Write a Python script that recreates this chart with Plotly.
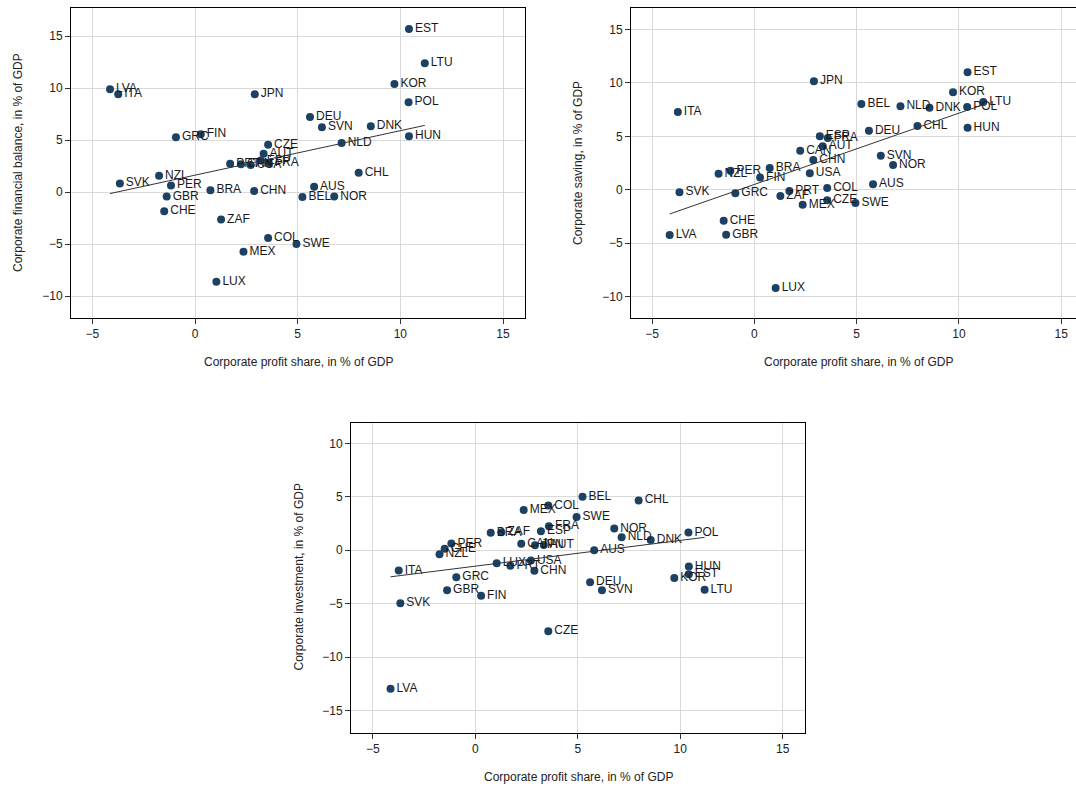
import numpy as np
import plotly.graph_objects as go

# Country codes and corporate profit share (x, % of GDP), shared by all panels
countries = ["EST", "LTU", "KOR", "POL", "LVA", "ITA", "JPN", "DEU", "SVN", "DNK",
             "HUN", "NLD", "GRC", "FIN", "CZE", "AUT", "ESP", "FRA", "PRT", "CAN",
             "USA", "NZL", "SVK", "PER", "GBR", "CHE", "BRA", "CHN", "AUS", "BEL",
             "NOR", "CHL", "ZAF", "COL", "SWE", "MEX", "LUX"]
profit_share = [10.42, 11.19, 9.71, 10.40, -4.14, -3.74, 2.91, 5.60, 6.18, 8.56,
                10.42, 7.14, -0.93, 0.28, 3.56, 3.34, 3.20, 3.59, 1.71, 2.24,
                2.71, -1.75, -3.66, -1.17, -1.38, -1.50, 0.75, 2.88, 5.80, 5.23,
                6.78, 7.97, 1.27, 3.56, 4.94, 2.36, 1.04]

# Corporate financial balance
fin_balance = [15.69, 12.38, 10.39, 8.65, 9.90, 9.42, 9.42, 7.23, 6.24, 6.33,
               5.37, 4.73, 5.27, 5.56, 4.55, 3.68, 3.04, 2.80, 2.72, 2.69,
               2.60, 1.58, 0.84, 0.64, -0.42, -1.83, 0.19, 0.10, 0.51, -0.48,
               -0.42, 1.86, -2.64, -4.41, -4.98, -5.72, -8.62]

# Corporate saving
saving = [11.00, 8.22, 9.13, 7.75, -4.25, 7.28, 10.16, 5.53, 3.19, 7.69,
          5.81, 7.81, -0.34, 1.13, -1.00, 4.06, 5.00, 4.84, -0.13, 3.66,
          1.53, 1.50, -0.25, 1.78, -4.22, -2.91, 2.03, 2.78, 0.50, 8.03,
          2.31, 5.97, -0.59, 0.16, -1.25, -1.41, -9.22]

# Corporate investment
investment = [-2.25, -3.69, -2.59, 1.66, -12.97, -1.90, 0.47, -3.00, -3.75, 0.97,
              -1.53, 1.22, -2.53, -4.25, -7.59, 0.50, 1.78, 2.25, -1.44, 0.62,
              -0.97, -0.38, -4.97, 0.63, -3.75, 0.13, 1.65, -1.91, 0.00, 5.00,
              2.03, 4.66, 1.69, 4.19, 3.12, 3.78, -1.22]

x_ticks = [-5, 0, 5, 10, 15]
x_title = "Corporate profit share, in % of GDP"

W, H = 1076, 787
FONT = "Liberation Sans, Arial, sans-serif"
NAVY = "#1d4163"

# pixel boxes: (left, right, top, bottom)
panels = [
    dict(y=fin_balance, title="Corporate financial balance, in % of GDP",
         box=(71, 525, 8, 318), xr=[-6.04, 16.07], yr=[-12.1, 17.7],
         yt=[-10, -5, 0, 5, 10, 15]),
    dict(y=saving, title="Corporate saving, in % of GDP",
         box=(631, 1076, 8, 318), xr=[-6.03, 15.72], yr=[-12.03, 17.03],
         yt=[-10, -5, 0, 5, 10, 15]),
    dict(y=investment, title="Corporate investment, in % of GDP",
         box=(351, 805, 422.5, 732.5), xr=[-6.07, 16.09], yr=[-17.06, 11.96],
         yt=[-15, -10, -5, 0, 5, 10]),
]

fig = go.Figure()
annotations = []
x = np.array(profit_share)

for i, p in enumerate(panels):
    n = "" if i == 0 else str(i + 1)
    xa, ya = "x" + n, "y" + n
    left, right, top, bottom = p["box"]
    y = np.array(p["y"])

    fig.add_trace(go.Scatter(
        x=profit_share, y=p["y"], text=countries, mode="markers+text",
        textposition="middle right",
        textfont=dict(family=FONT, size=12, color="#1a1a1a"),
        marker=dict(size=8, color=NAVY),
        xaxis=xa, yaxis=ya, showlegend=False, cliponaxis=False))

    # linear fit line
    slope, intercept = np.polyfit(x, y, 1)
    xf = np.array([x.min(), x.max()])
    fig.add_trace(go.Scatter(
        x=xf, y=slope * xf + intercept, mode="lines",
        line=dict(color="#333333", width=1),
        xaxis=xa, yaxis=ya, showlegend=False))

    axis_common = dict(showgrid=True, gridcolor="#d9d9d9", gridwidth=1,
                       zeroline=False, showline=True, linecolor="#000000",
                       linewidth=1, ticks="outside", ticklen=5,
                       tickcolor="#333333",
                       tickfont=dict(family=FONT, size=12, color="#222222"))
    fig.layout["xaxis" + n] = dict(
        axis_common, domain=[left / W, right / W], range=p["xr"],
        tickvals=x_ticks, ticktext=["\u22125", "0", "5", "10", "15"],
        mirror=True, anchor=ya)
    fig.layout["yaxis" + n] = dict(
        axis_common, domain=[1 - bottom / H, 1 - top / H], range=p["yr"],
        tickvals=p["yt"],
        ticktext=[("\u2212" + str(-v)) if v < 0 else str(v) for v in p["yt"]],
        mirror=(i != 1), anchor=xa)

    annotations.append(dict(
        text=x_title, xref="paper", yref="paper",
        x=(left + (left + 455)) / 2 / W, y=1 - (bottom + 44) / H,
        showarrow=False, font=dict(family=FONT, size=12, color="#222222"),
        xanchor="center", yanchor="middle"))
    annotations.append(dict(
        text=p["title"], xref="paper", yref="paper",
        x=(left - 53) / W, y=1 - (top + bottom) / 2 / H, textangle=-90,
        showarrow=False, font=dict(family=FONT, size=12, color="#222222"),
        xanchor="center", yanchor="middle"))

fig.update_layout(
    width=W, height=H, margin=dict(l=0, r=0, t=0, b=0),
    paper_bgcolor="white", plot_bgcolor="white",
    annotations=annotations)

fig.write_html("out.html", config={"displayModeBar": False},
               post_script="document.body.style.margin='0';")
